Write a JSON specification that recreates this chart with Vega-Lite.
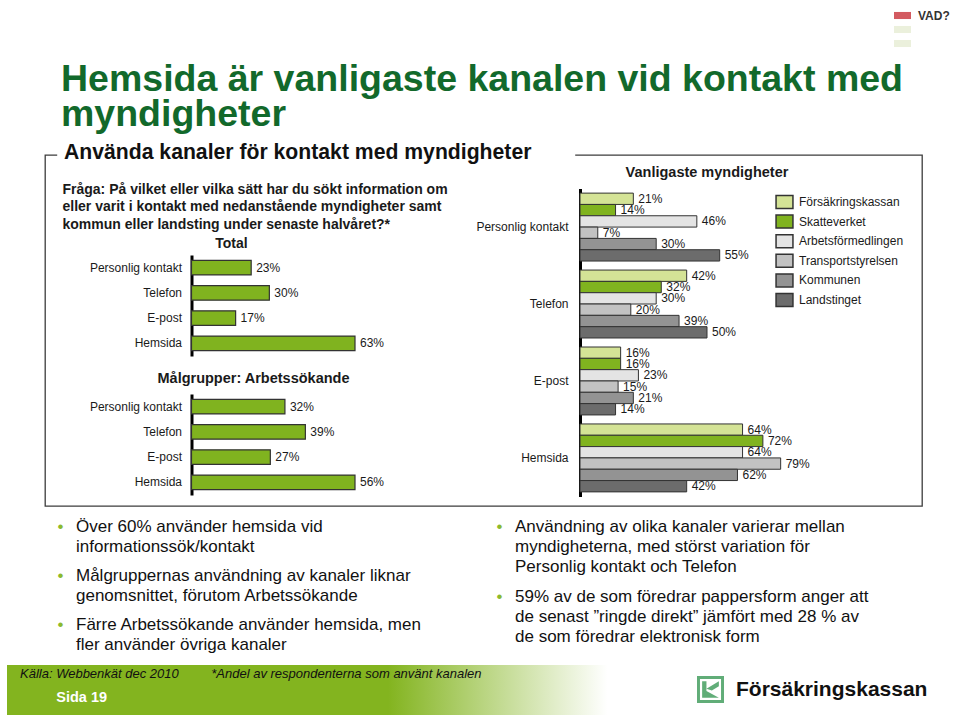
{
  "$schema": "https://vega.github.io/schema/vega-lite/v6.json",
  "autosize": {"type": "pad"},
  "padding": {"left": 7, "top": 0, "right": 0, "bottom": 2},
  "background": "white",
  "spacing": 0,
  "bounds": "flush",
  "center": true,
  "resolve": {"scale": {"color": "independent", "fill": "independent"}, "legend": {"color": "independent", "fill": "independent"}},
  "config": {
    "font": "Liberation Sans",
    "view": {"stroke": null},
    "axis": {"grid": false},
    "text": {"font": "Liberation Sans"}
  },
  "vconcat": [
    {
      "width": 953,
      "height": 155,
      "title": {
        "text": ["Hemsida är vanligaste kanalen vid kontakt med", "myndigheter"],
        "anchor": "start", "frame": "group", "orient": "top",
        "dx": 54, "offset": -163, "baseline": "alphabetic",
        "fontSize": 37.5, "fontWeight": "bold", "color": "#12692b", "lineHeight": 35
      },
      "layer": [
        {"data": {"values": [{}]}, "mark": {"type": "rect", "color": "white"}},
        {
          "data": {"values": [{"k": "VAD?"}, {"k": "b"}, {"k": "c"}]},
          "mark": {"type": "point", "size": 0, "filled": true},
          "encoding": {
            "color": {
              "field": "k", "type": "nominal", "sort": null,
              "scale": {"domain": ["VAD?", "b", "c"], "range": ["#c0141c", "#e2eacd", "#e2eacd"]},
              "legend": {
                "orient": "none", "legendX": 888, "legendY": 8, "title": null, "padding": 0,
                "symbolType": "M-1.2,-0.5H1.2V0.5H-1.2Z", "symbolSize": 200, "symbolStrokeWidth": 0,
                "labelExpr": "datum.label == 'VAD?' ? 'VAD?' : ''",
                "labelFontSize": 12, "labelFontWeight": "bold", "labelColor": "#333",
                "labelOffset": 8, "rowPadding": 0
              }
            }
          }
        }
      ]
    },
    {
      "width": 877,
      "height": 351,
      "view": {"stroke": "#3c3c3c", "strokeWidth": 1.3, "strokeDash": [12, 518, 4000]},
      "title": {
        "text": "Använda kanaler för kontakt med myndigheter",
        "anchor": "start", "frame": "group", "orient": "top",
        "dx": 19, "offset": -25.5, "baseline": "alphabetic",
        "fontSize": 21.2, "fontWeight": "bold", "color": "#111111"
      },
      "resolve": {"scale": {"x": "independent", "y": "independent", "color": "independent"}},
      "layer": [
        {
          "data": {"values": [
            {"kanal": "Personlig kontakt", "andel": 0.23},
            {"kanal": "Telefon", "andel": 0.30},
            {"kanal": "E-post", "andel": 0.17},
            {"kanal": "Hemsida", "andel": 0.63}
          ]},
          "encoding": {
            "y": {
              "field": "kanal", "type": "nominal", "sort": null,
              "scale": {"domain": ["Personlig kontakt", "Telefon", "E-post", "Hemsida"], "range": [100, 201], "paddingInner": 0.42, "paddingOuter": 0.21},
              "axis": {
                "orient": "left", "offset": -146.5, "ticks": false, "tickSize": 0,
                "domainColor": "#000000", "domainWidth": 3,
                "labelFontSize": 12, "labelColor": "#1a1a1a", "labelPadding": 10,
                "title": ["Fråga: På vilket eller vilka sätt har du sökt information om", "eller varit i kontakt med nedanstående myndigheter samt", "kommun eller landsting under senaste halvåret?*"],
                "titleAngle": 0, "titleAlign": "left", "titleBaseline": "alphabetic",
                "titleX": -129.5, "titleY": 38, "titleFontSize": 14, "titleFontWeight": "bold",
                "titleLineHeight": 17.5, "titleColor": "#1a1a1a", "titleLimit": 1000
              }
            },
            "x": {
              "field": "andel", "type": "quantitative",
              "scale": {"domain": [0, 0.63], "range": [146.5, 310], "nice": false},
              "axis": {
                "orient": "top", "offset": -100, "domain": false, "ticks": false, "labels": false,
                "title": "Total", "titleX": 186, "titleY": -8, "titleAlign": "center", "titleBaseline": "alphabetic",
                "titleFontSize": 14, "titleFontWeight": "bold", "titleColor": "#1a1a1a"
              }
            }
          },
          "layer": [
            {"mark": {"type": "bar", "color": "#80b31f", "stroke": "#333333", "strokeWidth": 1.2}},
            {
              "mark": {"type": "text", "align": "left", "baseline": "middle", "dx": 5, "fontSize": 12, "color": "#1a1a1a"},
              "encoding": {"text": {"field": "andel", "type": "quantitative", "format": ".0%"}}
            }
          ]
        },
        {
          "data": {"values": [
            {"kanal": "Personlig kontakt", "andel": 0.32},
            {"kanal": "Telefon", "andel": 0.39},
            {"kanal": "E-post", "andel": 0.27},
            {"kanal": "Hemsida", "andel": 0.56}
          ]},
          "encoding": {
            "y": {
              "field": "kanal", "type": "nominal", "sort": null,
              "scale": {"domain": ["Personlig kontakt", "Telefon", "E-post", "Hemsida"], "range": [239, 340], "paddingInner": 0.42, "paddingOuter": 0.21},
              "axis": {
                "orient": "left", "offset": -146.5, "ticks": false, "tickSize": 0,
                "domainColor": "#000000", "domainWidth": 3,
                "labelFontSize": 12, "labelColor": "#1a1a1a", "labelPadding": 10, "title": null
              }
            },
            "x": {
              "field": "andel", "type": "quantitative",
              "scale": {"domain": [0, 0.56], "range": [146.5, 310], "nice": false},
              "axis": {
                "orient": "top", "offset": -239, "domain": false, "ticks": false, "labels": false,
                "title": "Målgrupper: Arbetssökande", "titleX": 208, "titleY": -12, "titleAlign": "center", "titleBaseline": "alphabetic",
                "titleFontSize": 14.5, "titleFontWeight": "bold", "titleColor": "#1a1a1a"
              }
            }
          },
          "layer": [
            {"mark": {"type": "bar", "color": "#80b31f", "stroke": "#333333", "strokeWidth": 1.2}},
            {
              "mark": {"type": "text", "align": "left", "baseline": "middle", "dx": 5, "fontSize": 12, "color": "#1a1a1a"},
              "encoding": {"text": {"field": "andel", "type": "quantitative", "format": ".0%"}}
            }
          ]
        },
        {
          "data": {"values": [
            {"kanal": "Personlig kontakt", "myndighet": "Försäkringskassan", "andel": 0.21},
            {"kanal": "Personlig kontakt", "myndighet": "Skatteverket", "andel": 0.14},
            {"kanal": "Personlig kontakt", "myndighet": "Arbetsförmedlingen", "andel": 0.46},
            {"kanal": "Personlig kontakt", "myndighet": "Transportstyrelsen", "andel": 0.07},
            {"kanal": "Personlig kontakt", "myndighet": "Kommunen", "andel": 0.30},
            {"kanal": "Personlig kontakt", "myndighet": "Landstinget", "andel": 0.55},
            {"kanal": "Telefon", "myndighet": "Försäkringskassan", "andel": 0.42},
            {"kanal": "Telefon", "myndighet": "Skatteverket", "andel": 0.32},
            {"kanal": "Telefon", "myndighet": "Arbetsförmedlingen", "andel": 0.30},
            {"kanal": "Telefon", "myndighet": "Transportstyrelsen", "andel": 0.20},
            {"kanal": "Telefon", "myndighet": "Kommunen", "andel": 0.39},
            {"kanal": "Telefon", "myndighet": "Landstinget", "andel": 0.50},
            {"kanal": "E-post", "myndighet": "Försäkringskassan", "andel": 0.16},
            {"kanal": "E-post", "myndighet": "Skatteverket", "andel": 0.16},
            {"kanal": "E-post", "myndighet": "Arbetsförmedlingen", "andel": 0.23},
            {"kanal": "E-post", "myndighet": "Transportstyrelsen", "andel": 0.15},
            {"kanal": "E-post", "myndighet": "Kommunen", "andel": 0.21},
            {"kanal": "E-post", "myndighet": "Landstinget", "andel": 0.14},
            {"kanal": "Hemsida", "myndighet": "Försäkringskassan", "andel": 0.64},
            {"kanal": "Hemsida", "myndighet": "Skatteverket", "andel": 0.72},
            {"kanal": "Hemsida", "myndighet": "Arbetsförmedlingen", "andel": 0.64},
            {"kanal": "Hemsida", "myndighet": "Transportstyrelsen", "andel": 0.79},
            {"kanal": "Hemsida", "myndighet": "Kommunen", "andel": 0.62},
            {"kanal": "Hemsida", "myndighet": "Landstinget", "andel": 0.42}
          ]},
          "encoding": {
            "y": {
              "field": "kanal", "type": "nominal", "sort": null,
              "scale": {"domain": ["Personlig kontakt", "Telefon", "E-post", "Hemsida"], "range": [33.5, 341.5], "paddingInner": 0.117, "paddingOuter": 0.06},
              "axis": {
                "orient": "left", "offset": -535, "ticks": false, "tickSize": 0,
                "domainColor": "#000000", "domainWidth": 3,
                "labelFontSize": 12, "labelColor": "#1a1a1a", "labelPadding": 12, "title": null
              }
            },
            "yOffset": {
              "field": "myndighet", "type": "nominal", "sort": null,
              "scale": {"domain": ["Försäkringskassan", "Skatteverket", "Arbetsförmedlingen", "Transportstyrelsen", "Kommunen", "Landstinget"], "paddingInner": 0, "paddingOuter": 0}
            },
            "x": {
              "field": "andel", "type": "quantitative",
              "scale": {"domain": [0, 1], "range": [535, 789], "nice": false},
              "axis": {
                "orient": "top", "offset": 0, "domain": false, "ticks": false, "labels": false,
                "title": "Vanligaste myndigheter", "titleX": 661.5, "titleY": 21, "titleAlign": "center", "titleBaseline": "alphabetic",
                "titleFontSize": 14.5, "titleFontWeight": "bold", "titleColor": "#1a1a1a"
              }
            }
          },
          "layer": [
            {
              "mark": {"type": "bar", "stroke": "#333333", "strokeWidth": 1},
              "encoding": {
                "color": {
                  "field": "myndighet", "type": "nominal", "sort": null,
                  "scale": {
                    "domain": ["Försäkringskassan", "Skatteverket", "Arbetsförmedlingen", "Transportstyrelsen", "Kommunen", "Landstinget"],
                    "range": ["#d4e396", "#80b31f", "#e4e4e4", "#c2c2c2", "#939393", "#6c6c6c"]
                  },
                  "legend": {
                    "orient": "none", "legendX": 732, "legendY": 39.5, "title": null, "padding": 0,
                    "symbolType": "M-1.3,-1H1.3V1H-1.3Z", "symbolSize": 169,
                    "symbolStrokeColor": "#333333", "symbolStrokeWidth": 1.5,
                    "labelFontSize": 12, "labelColor": "#1a1a1a", "labelOffset": 7, "rowPadding": 0.6, "labelLimit": 300,
                    "encode": {"symbols": {"update": {"stroke": {"value": "#333333"}, "strokeWidth": {"value": 1.5}}}}
                  }
                }
              }
            },
            {
              "mark": {"type": "text", "align": "left", "baseline": "middle", "dx": 5, "fontSize": 12, "color": "#1a1a1a"},
              "encoding": {"text": {"field": "andel", "type": "quantitative", "format": ".0%"}}
            }
          ]
        }
      ]
    },
    {
      "width": 953,
      "height": 159,
      "resolve": {"scale": {"y": "independent"}},
      "layer": [
        {
          "data": {"values": [
            {"kol": "V", "stycke": 1, "rad": "Över 60% använder hemsida vid\ninformationssök/kontakt"},
            {"kol": "V", "stycke": 2, "rad": "Målgruppernas användning av kanaler liknar\ngenomsnittet, förutom Arbetssökande"},
            {"kol": "V", "stycke": 3, "rad": "Färre Arbetssökande använder hemsida, men\nfler använder övriga kanaler"}
          ]},
          "encoding": {
            "x": {"field": "kol", "type": "nominal", "scale": {"type": "point", "domain": ["V", "H"], "range": [69, 508], "padding": 0}, "axis": null},
            "y": {"field": "stycke", "type": "ordinal", "scale": {"type": "point", "domain": [1, 2, 3], "range": [26, 124], "padding": 0}, "axis": null}
          },
          "layer": [
            {"mark": {"type": "text", "align": "left", "baseline": "alphabetic", "fontSize": 17, "lineBreak": "\n", "lineHeight": 20, "color": "#111111"}, "encoding": {"text": {"field": "rad"}}},
            {"mark": {"type": "text", "align": "center", "baseline": "alphabetic", "fontSize": 17, "dx": -15.5, "color": "#8cba2e", "text": "•"}}
          ]
        },
        {
          "data": {"values": [
            {"kol": "H", "stycke": 1, "rad": "Användning av olika kanaler varierar mellan\nmyndigheterna, med störst variation för\nPersonlig kontakt och Telefon"},
            {"kol": "H", "stycke": 2, "rad": "59% av de som föredrar pappersform anger att\nde senast ”ringde direkt” jämfört med 28 % av\nde som föredrar elektronisk form"}
          ]},
          "encoding": {
            "x": {"field": "kol", "type": "nominal", "scale": {"type": "point", "domain": ["V", "H"], "range": [69, 508], "padding": 0}, "axis": null},
            "y": {"field": "stycke", "type": "ordinal", "scale": {"type": "point", "domain": [1, 2], "range": [26, 96], "padding": 0}, "axis": null}
          },
          "layer": [
            {"mark": {"type": "text", "align": "left", "baseline": "alphabetic", "fontSize": 17, "lineBreak": "\n", "lineHeight": 20, "color": "#111111"}, "encoding": {"text": {"field": "rad"}}},
            {"mark": {"type": "text", "align": "center", "baseline": "alphabetic", "fontSize": 17, "dx": -15.5, "color": "#8cba2e", "text": "•"}}
          ]
        }
      ]
    },
    {
      "width": 953,
      "height": 50,
      "title": {
        "text": "Källa: Webbenkät dec 2010\u00a0\u00a0\u00a0\u00a0\u00a0\u00a0\u00a0\u00a0\u00a0*Andel av respondenterna som använt kanalen",
        "subtitle": "\u200b\u00a0\u00a0\u00a0\u00a0\u00a0\u00a0\u00a0\u00a0\u00a0Sida 19",
        "anchor": "start", "frame": "group", "orient": "top",
        "dx": 13, "offset": -49, "baseline": "alphabetic",
        "fontSize": 13, "fontStyle": "italic", "fontWeight": "normal", "color": "#111111",
        "subtitleColor": "#ffffff", "subtitleFontSize": 14.5, "subtitleFontWeight": "bold", "subtitlePadding": 11
      },
      "layer": [
        {
          "data": {"values": [{}]},
          "mark": {
            "type": "rect",
            "color": {
              "gradient": "linear", "x1": 0, "x2": 1, "y1": 0, "y2": 0,
              "stops": [
                {"offset": 0, "color": "#83b41f"},
                {"offset": 0.4, "color": "#83b41f"},
                {"offset": 0.63, "color": "#ffffff"}
              ]
            }
          }
        },
        {
          "data": {"values": [{"brand": "Försäkringskassan"}]},
          "mark": {"type": "point", "size": 0, "filled": true},
          "encoding": {
            "fill": {
              "field": "brand", "type": "nominal",
              "scale": {"domain": ["Försäkringskassan"], "range": ["#1e8a3e"]},
              "legend": {
                "orient": "none", "legendX": 690, "legendY": 11, "title": null, "padding": 0,
                "symbolType": "M-1,-1H1V1H-1Z M-0.78,-0.78V0.78H0.78V-0.78Z M-0.62,-0.62H-0.3V0.62H-0.62Z M-0.3,-0.05L0.62,-0.62V-0.25L0.1,0.08Z M-0.3,0.12L0.62,0.62H-0.3Z",
                "symbolSize": 729, "symbolStrokeWidth": 0,
                "labelFontSize": 21, "labelFontWeight": "bold", "labelColor": "#111111",
                "labelOffset": 12, "labelLimit": 300
              }
            }
          }
        }
      ]
    }
  ]
}
